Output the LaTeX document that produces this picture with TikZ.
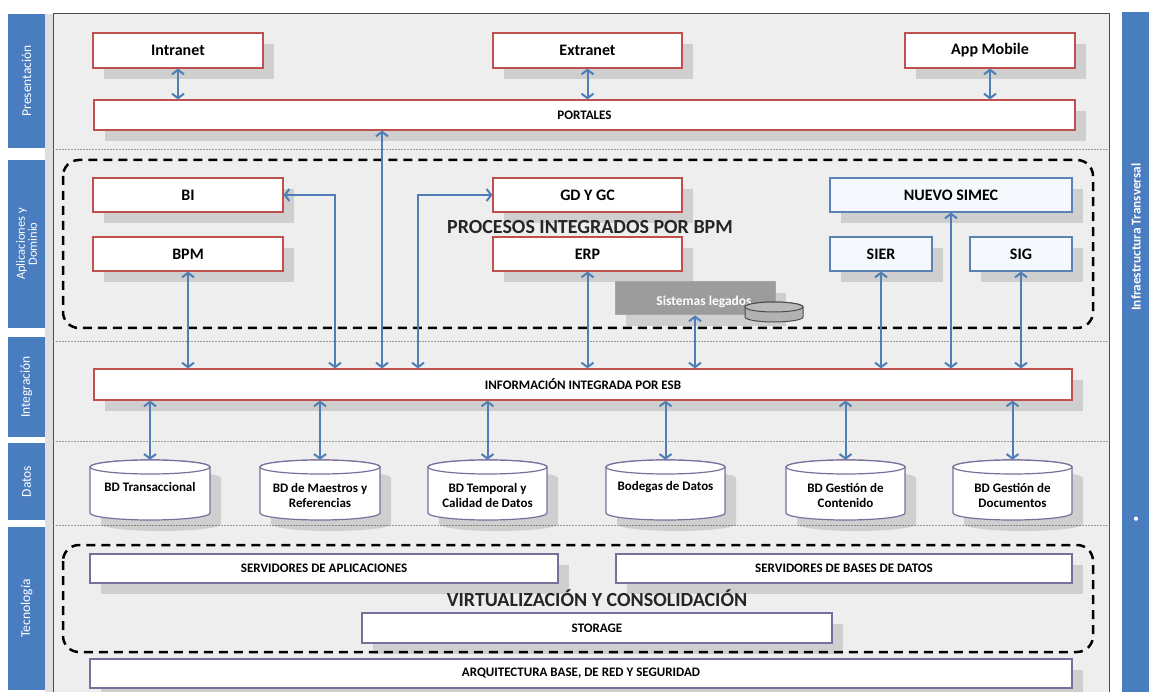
\documentclass[tikz,border=0pt]{standalone}
\usepackage{fontspec}
\setmainfont{Carlito}
\usetikzlibrary{arrows.meta,shadows,calc}
\definecolor{redb}{HTML}{C0504D}
\definecolor{blueb}{HTML}{5A82B4}
\definecolor{labelblue}{HTML}{4A7CC0}
\definecolor{arrowblue}{HTML}{4F7DB5}
\definecolor{purb}{HTML}{7A6E9A}
\definecolor{simecfill}{HTML}{F5F9FD}
\definecolor{legfill}{HTML}{9C9C9C}
\definecolor{bgfill}{HTML}{EEEEEE}
\tikzset{
 shad/.style={drop shadow={shadow xshift=11pt, shadow yshift=-11pt, fill=black, opacity=0.13}},
 box/.style={draw, line width=1.2pt, fill=white, inner sep=0pt, align=center, shad},
 redbox/.style={box, draw=redb},
 bluebox/.style={box, draw=blueb, fill=simecfill},
 techbox/.style={box, draw=purb},
 bigf/.style={font=\fontsize{16}{18}\selectfont\bfseries},
 smallf/.style={font=\fontsize{13}{15}\selectfont\bfseries},
 dbf/.style={font=\fontsize{13}{15}\selectfont\bfseries, align=center},
 arr/.style={draw=arrowblue, line width=2pt, {Straight Barb[length=4.5pt,width=12pt]}-{Straight Barb[length=4.5pt,width=12pt]}},
 grp/.style={draw=black, line width=2.5pt, dash pattern=on 9pt off 6pt, rounded corners=16pt},
 sep/.style={draw=gray!80, line width=1pt, dash pattern=on 2pt off 1pt},
 sidebar/.style={fill=labelblue, draw=none, text=white, inner sep=0pt, align=center, rotate=90, font=\fontsize{13.5}{13}\selectfont},
 dbnode/.style={draw=none, minimum width=120, minimum height=60, inner sep=0pt},
 cyl/.style={draw=purb, line width=1.2pt, fill=white},
}
\newcommand\dbcyl[2]{%
 \pgfmathsetmacro\dbcx{(#1+#2)/2}\pgfmathsetmacro\dbrx{(#2-#1)/2}%
 \draw[cyl, shad] (#1,467) -- (#1,513) arc[start angle=180, end angle=0, x radius=\dbrx, y radius=7] -- (#2,467) arc[start angle=0, end angle=-180, x radius=\dbrx, y radius=7] -- cycle;
 \draw[cyl] (\dbcx,467) ellipse[x radius=\dbrx, y radius=7];
}
\begin{document}
\begin{tikzpicture}[x=1pt,y=-1pt]
\useasboundingbox (0,0) rectangle (1149,692);
\fill[white] (0,0) rectangle (1149,692);
\fill[bgfill] (53,14) rectangle (1109,692);
\fill[gray!25] (45,14) rectangle (53,692);
\draw[gray!60!black, line width=1pt] (53,692) -- (53,14) -- (1109,14) -- (1109,692);

% side labels
\node[sidebar, minimum width=134, minimum height=37] (lpres) at (26.5,81) {Presentación};
\node[sidebar, minimum width=168, minimum height=37, font=\fontsize{12.5}{12}\selectfont] (lapl) at (26.5,244) {Aplicaciones y\\Dominio};
\node[sidebar, minimum width=100, minimum height=37] (lint) at (26.5,387) {Integración};
\node[sidebar, minimum width=77, minimum height=37] (ldat) at (26.5,481.5) {Datos};
\node[sidebar, minimum width=163, minimum height=37] (ltec) at (26.5,608.5) {Tecnología};
\node[sidebar, minimum width=680, minimum height=27] (linfra) at (1135.5,352) {};
\node[text=white, rotate=90, font=\fontsize{13.3}{15}\selectfont\bfseries] (tinfra) at (1136,237) {Infraestructura Transversal};
\node[text=white, font=\fontsize{12}{14}\selectfont] (bullet) at (1136,520) {•};

% separators
\foreach \yy in {150,342,442,525} \draw[sep] (53,\yy) -- (1109,\yy);

% groups
\draw[grp] (63,160) rectangle (1093,328);
\draw[grp] (63,545) rectangle (1093,652);

% presentation
\node[redbox, bigf, minimum width=170, minimum height=35] (intranet) at (178,50.5) {Intranet};
\node[redbox, bigf, minimum width=189, minimum height=35] (extranet) at (587.5,50.5) {Extranet};
\node[redbox, bigf, minimum width=170, minimum height=35] (appmobile) at (990,50.5) {App Mobile};
\node[redbox, smallf, minimum width=981, minimum height=30] (portales) at (584.5,115) {PORTALES};

% applications
\node[redbox, bigf, minimum width=190, minimum height=34] (bi) at (188,195) {BI};
\node[redbox, bigf, minimum width=190, minimum height=34] (bpm) at (188,254) {BPM};
\node[redbox, bigf, minimum width=189, minimum height=34] (gd) at (587.5,195) {GD Y GC};
\node[redbox, bigf, minimum width=189, minimum height=34] (erp) at (587.5,254) {ERP};
\node[bluebox, bigf, minimum width=242, minimum height=34] (simec) at (951,195) {NUEVO SIMEC};
\node[bluebox, bigf, minimum width=102, minimum height=34] (sier) at (881,254) {SIER};
\node[bluebox, bigf, minimum width=102, minimum height=34] (sig) at (1021,254) {SIG};
\node[draw=gray!70, fill=legfill, line width=1pt, minimum width=160, minimum height=33, inner sep=0pt, shad] (legados) at (695,298.5) {};
\node[text=white, font=\fontsize{13.5}{15}\selectfont\bfseries] (legtxt) at (704,302) {Sistemas legados};
\draw[draw=gray!60!black, fill=gray!60, line width=1pt] (745,307) -- (745,317) arc[start angle=180, end angle=0, x radius=29, y radius=5] -- (803,307) arc[start angle=0, end angle=-180, x radius=29, y radius=5] -- cycle;
\draw[draw=gray!60!black, fill=gray!55, line width=1pt] (774,307) ellipse[x radius=29, y radius=5];
\node[font=\fontsize{20}{22}\selectfont\bfseries, text=black!85] (procesos) at (590,227) {PROCESOS INTEGRADOS POR BPM};

% integration
\node[redbox, smallf, minimum width=978, minimum height=31] (esb) at (583,384.5) {INFORMACIÓN INTEGRADA POR ESB};

% data
\dbcyl{90}{210}
\dbcyl{260}{380}
\dbcyl{428}{547}
\dbcyl{606}{725}
\dbcyl{786}{905}
\dbcyl{953}{1072}
\node[dbnode] (db1) at (150,490) {};
\node[dbnode] (db2) at (320,490) {};
\node[dbnode] (db3) at (487.5,490) {};
\node[dbnode] (db4) at (665.5,490) {};
\node[dbnode] (db5) at (845.5,490) {};
\node[dbnode] (db6) at (1012.5,490) {};
\node[dbf] (t1) at (150,487) {BD Transaccional};
\node[dbf] (t2) at (320,495) {BD de Maestros y\\Referencias};
\node[dbf] (t3) at (487.5,495) {BD Temporal y\\Calidad de Datos};
\node[dbf] (t4) at (665.5,487) {Bodegas de Datos};
\node[dbf] (t5) at (845.5,495) {BD Gestión de\\Contenido};
\node[dbf] (t6) at (1012.5,495) {BD Gestión de\\Documentos};

% technology
\node[techbox, smallf, minimum width=468, minimum height=29] (srvapp) at (324,568.5) {SERVIDORES DE APLICACIONES};
\node[techbox, smallf, minimum width=456, minimum height=29] (srvdb) at (844,568.5) {SERVIDORES DE BASES DE DATOS};
\node[techbox, smallf, minimum width=470, minimum height=30] (storage) at (597,628) {STORAGE};
\node[techbox, smallf, minimum width=982, minimum height=29] (arq) at (581,673.5) {ARQUITECTURA BASE, DE RED Y SEGURIDAD};
\node[font=\fontsize{20}{22}\selectfont\bfseries, text=black!85] (virt) at (597,598) {VIRTUALIZACIÓN Y CONSOLIDACIÓN};

% connectors
\draw[arr] (intranet.south) -- (intranet.south |- portales.north);
\draw[arr] (extranet.south) -- (extranet.south |- portales.north);
\draw[arr] (appmobile.south) -- (appmobile.south |- portales.north);
\draw[arr] (bpm.south) -- (bpm.south |- esb.north);
\coordinate (cbi) at (335,0);
\coordinate (cport) at (382,0);
\coordinate (cgd) at (418,0);
\draw[arr] (bi.east) -| (cbi |- esb.north);
\draw[arr] (cport |- portales.south) -- (cport |- esb.north);
\draw[arr] (gd.west) -| (cgd |- esb.north);
\draw[arr] (erp.south) -- (erp.south |- esb.north);
\draw[arr] (legados.south) -- (legados.south |- esb.north);
\draw[arr] (sier.south) -- (sier.south |- esb.north);
\draw[arr] (simec.south) -- (simec.south |- esb.north);
\draw[arr] (sig.south) -- (sig.south |- esb.north);
\foreach \d in {db1,db2,db3,db4,db5,db6}
  \draw[arr] (esb.south -| \d.north) -- (\d.north);
\end{tikzpicture}
\end{document}
